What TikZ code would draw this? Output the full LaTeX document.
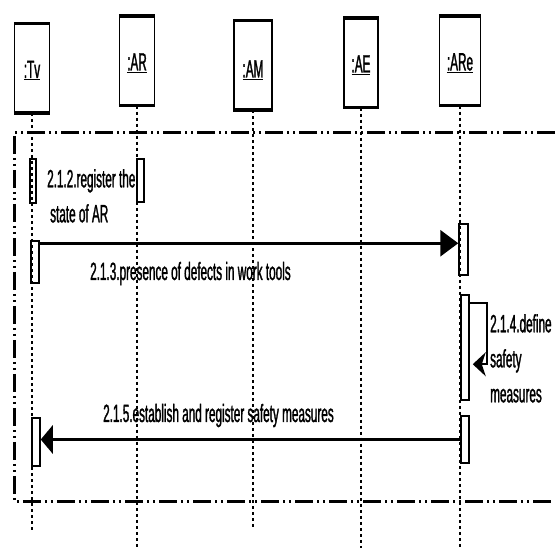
\documentclass[tikz,border=0pt]{standalone}
\usepackage{fontspec}
\setmainfont{Liberation Sans}[FakeStretch=0.47, FakeBold=1.2]
\usepackage{tikz}
\usetikzlibrary{arrows.meta,positioning}
\tikzset{
    object/.style={rectangle, draw, line width=1.5pt, minimum width=35pt, minimum height=88pt, inner sep=1pt, text height=21pt},
    lifeline/.style={draw, line width=1.5pt, dash pattern=on 3pt off 3pt},
    activation/.style={rectangle, draw, line width=1.5pt, minimum width=8pt, inner sep=0pt},
    msg/.style={draw, line width=3pt, -{Triangle[length=18pt,width=26pt]}},
    retmsg/.style={draw, line width=3pt, -{Triangle[length=12pt,width=28pt]}},
    selfmsg/.style={draw, line width=2pt, -{Stealth[length=13pt,width=24pt,inset=4pt]}},
    fragbox/.style={draw, line width=3pt, dash pattern=on 18pt off 4pt on 2pt off 4pt on 2pt off 4pt},
    msgtext/.style={inner sep=0pt}
}

\begin{document}
\begin{tikzpicture}[x=1pt, y=-1pt, font=\fontsize{25}{35}\selectfont]
    \useasboundingbox (0,0) rectangle (555,548);

    % Objects
    \node[object] (tv) at (32,68.5) {\underline{:Tv}};
    \node[object] (ar) at (137,61) {\underline{:AR}};
    \node[object, minimum width=38pt, text height=26pt] (am) at (253,65.5) {\underline{:AM}};
    \node[object, minimum width=34pt] (ae) at (361,63) {\underline{:AE}};
    \node[object, minimum width=41pt] (are) at (460,61) {\underline{:ARe}};
    \foreach \o in {tv,ar,am,ae,are}
        \draw[line width=3.5pt] (\o.north west) -- (\o.north east) (\o.south west) -- (\o.south east);

    % lifelines
    \foreach \o/\x/\y in {tv/32/532, ar/137/548, am/253/530, ae/361/548, are/460/548} {
        \coordinate (\o end) at (\x,\y);
        \draw[lifeline] (\o.south) -- (\o end);
    }

    % frame
    \draw[fragbox] (555,133) -| (14,501) -- (555,501);

    % activations
    \node[activation, minimum width=6pt, minimum height=44pt] (tvA) at (33,181) {};
    \node[activation, minimum width=7pt, minimum height=43pt] (arA) at (140.5,180.5) {};
    \node[activation, minimum height=42pt] (tvB) at (35,262) {};
    \node[activation, minimum width=9pt, minimum height=51pt] (areA) at (463.5,249.5) {};
    \node[activation, minimum height=105pt] (areB) at (465,347.5) {};
    \node[activation, minimum height=47pt] (areC) at (465,439.5) {};
    \node[activation, minimum height=48pt] (tvC) at (36,442) {};

    % messages
    \node[msgtext, anchor=north west, align=left] (t212) at (47,169) {2.1.2.register the\\\hspace*{3pt}state of AR};

    \coordinate (m213) at ([yshift=-3pt]tvB.north east);
    \draw[msg] (m213) -- (m213 -| areA.west);
    \node[msgtext, anchor=base west] (t213) at (90,280) {2.1.3.presence of defects in work tools};

    \draw[selfmsg] ([yshift=-9pt]areB.north east) -- ++(17,0) -- ++(0,61) -- ++(-14,0);
    \node[msgtext, anchor=north west, align=left] (t214) at (490,314) {2.1.4.define\\safety\\measures};

    \draw[retmsg] (areC.west) -- (areC.west -| tvC.east);
    \node[msgtext, anchor=base west] (t215) at (103,422) {2.1.5.establish and register safety measures};
\end{tikzpicture}
\end{document}
